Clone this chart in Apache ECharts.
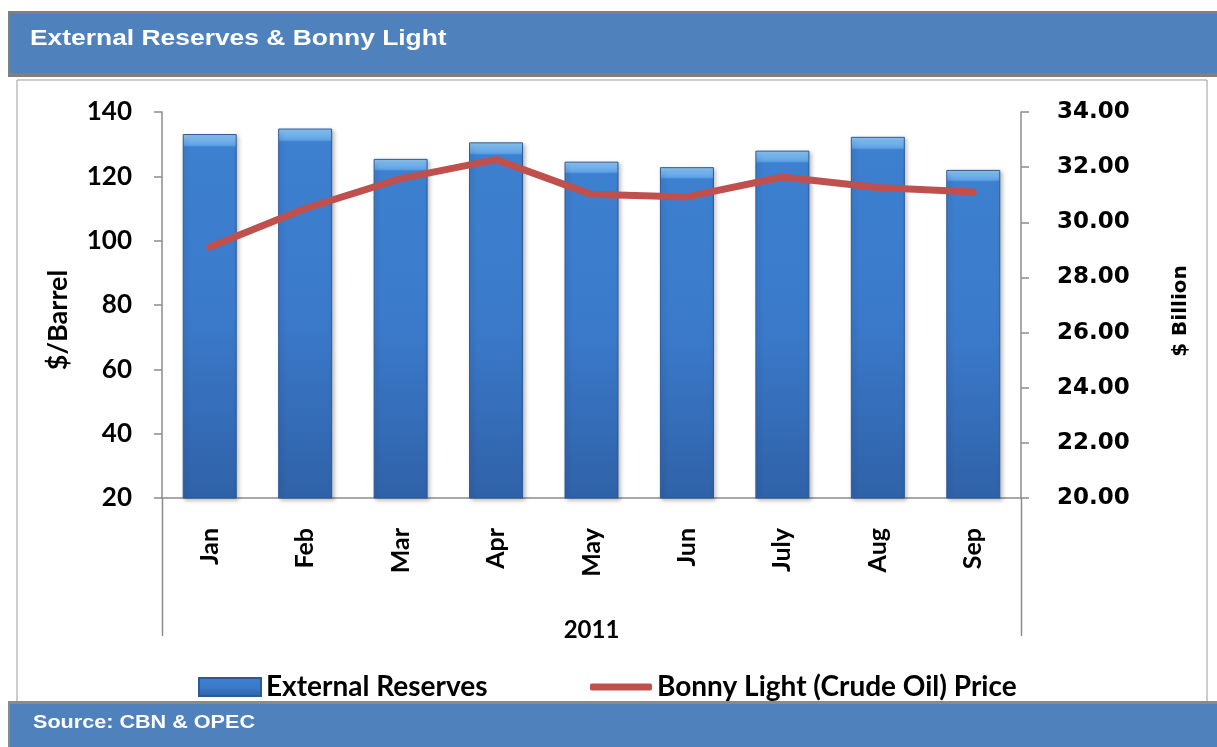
<!DOCTYPE html>
<html>
<head>
<meta charset="utf-8">
<script src="https://cdn.jsdelivr.net/npm/echarts@6/dist/echarts.min.js"></script>
<style>
  html, body { margin: 0; padding: 0; background: #fff; }
  #chart { width: 1217px; height: 747px; }
</style>
</head>
<body>
<div id="chart"></div>
<script>
// data
const months = ['Jan', 'Feb', 'Mar', 'Apr', 'May', 'Jun', 'July', 'Aug', 'Sep']
const reserves = [33.2, 33.4, 32.3, 32.9, 32.2, 32.0, 32.6, 33.1, 31.9]   // $ Billion
const bonnyLight = [98.0, 110.0, 119.3, 125.2, 114.4, 113.6, 119.8, 116.5, 115.1]   // $/Barrel
const leftTicks = { min: 20, max: 140, interval: 20 }
const rightTicks = { min: 20, max: 34, interval: 2 }

const chart = echarts.init(document.getElementById('chart'))
const lato = 'Lato, "Open Sans", sans-serif'
const dejavu = '"DejaVu Sans", Verdana, sans-serif'
const arial = '"Liberation Sans", Arial, sans-serif'

chart.setOption({
  animation: false,
  backgroundColor: '#fff',
  graphic: [
    // title bar
    { type: 'rect', shape: { x: 8, y: 11, width: 1209, height: 66 }, style: { fill: '#7f7f7f' }, z: 0 },
    { type: 'rect', shape: { x: 10, y: 14, width: 1207, height: 59 }, style: { fill: '#4f81bd' }, z: 1 },
    { type: 'text', x: 30, y: 28, scaleX: 1.2, style: { text: 'External Reserves & Bonny Light', fill: '#fff', font: 'bold 22px ' + arial }, z: 2 },
    // chart box
    { type: 'rect', shape: { x: 17, y: 80, width: 1190, height: 624 }, style: { fill: '#fff', stroke: '#9a9a9a', lineWidth: 1 }, z: -1 },
    // plot area side lines running below the axis
    { type: 'line', shape: { x1: 162.5, y1: 498, x2: 162.5, y2: 636 }, style: { stroke: '#8c8c8c', lineWidth: 1.5 }, z: 1 },
    { type: 'line', shape: { x1: 1021.5, y1: 498, x2: 1021.5, y2: 636 }, style: { stroke: '#8c8c8c', lineWidth: 1.5 }, z: 1 },
    // footer
    { type: 'rect', shape: { x: 8, y: 701, width: 1209, height: 46 }, style: { fill: '#8a8a8a' }, z: 0 },
    { type: 'rect', shape: { x: 10, y: 704, width: 1207, height: 43 }, style: { fill: '#4f81bd' }, z: 1 },
    { type: 'text', x: 33, y: 714, scaleX: 1.2, style: { text: 'Source: CBN & OPEC', fill: '#fff', font: 'bold 18px ' + arial }, z: 2 }
  ],
  legend: [
    {
      data: ['External Reserves'],
      left: 193, top: 668,
      itemWidth: 62, itemHeight: 18, itemGap: 8,
      icon: 'rect',
      textStyle: { fontFamily: lato, fontWeight: 'bold', fontSize: 28, color: '#000' }
    },
    {
      data: ['Bonny Light (Crude Oil) Price'],
      left: 585, top: 668,
      itemWidth: 62, itemHeight: 7, itemGap: 8,
      icon: 'roundRect',
      textStyle: { fontFamily: lato, fontWeight: 'bold', fontSize: 28, color: '#000' }
    }
  ],
  grid: { left: 162, right: 196, top: 112, bottom: 249, containLabel: false },
  xAxis: {
    type: 'category',
    data: months,
    name: '2011',
    nameLocation: 'middle',
    nameGap: 120,
    nameTextStyle: { fontFamily: lato, fontWeight: 'bold', fontSize: 24, color: '#000' },
    axisLine: { lineStyle: { color: '#8c8c8c', width: 1.5 } },
    axisTick: { show: false },
    axisLabel: { rotate: 90, margin: 30, fontFamily: lato, fontWeight: 'bold', fontSize: 25, color: '#000' }
  },
  yAxis: [
    {
      type: 'value',
      position: 'left',
      min: leftTicks.min, max: leftTicks.max, interval: leftTicks.interval,
      name: '$/Barrel',
      nameLocation: 'middle',
      nameRotate: 90,
      nameGap: 90,
      nameTextStyle: { fontFamily: lato, fontWeight: 'bold', fontSize: 27, color: '#000', padding: [0, 30, 0, 0] },
      axisLine: { show: true, lineStyle: { color: '#8c8c8c', width: 1.5 } },
      axisTick: { show: true, length: 8, lineStyle: { color: '#8c8c8c', width: 1.5 } },
      axisLabel: { margin: 30, fontFamily: lato, fontWeight: 'bold', fontSize: 26, color: '#000' },
      splitLine: { show: false }
    },
    {
      type: 'value',
      position: 'right',
      min: rightTicks.min, max: rightTicks.max, interval: rightTicks.interval,
      name: '$ Billion',
      nameLocation: 'middle',
      nameRotate: 90,
      nameGap: 150,
      nameTextStyle: { fontFamily: dejavu, fontWeight: 'bold', fontSize: 20, color: '#000', padding: [0, 12, 0, 0] },
      axisLine: { show: true, lineStyle: { color: '#8c8c8c', width: 1.5 } },
      axisTick: { show: true, length: 8, lineStyle: { color: '#8c8c8c', width: 1.5 } },
      axisLabel: {
        margin: 36, fontFamily: dejavu, fontWeight: 'bold', fontSize: 23, color: '#000',
        formatter: v => v.toFixed(2)
      },
      splitLine: { show: false }
    }
  ],
  series: [
    {
      name: 'External Reserves',
      type: 'bar',
      yAxisIndex: 1,
      data: reserves,
      barWidth: 54,
      itemStyle: {
        color: new echarts.graphic.LinearGradient(0, 0, 0, 1, [
          { offset: 0, color: '#8fc8f6' },
          { offset: 0.03, color: '#5fa3e6' },
          { offset: 0.036, color: '#3d80cf' },
          { offset: 0.5, color: '#3b7acb' },
          { offset: 1, color: '#2f62a8' }
        ]),
        borderColor: '#2c5a96',
        borderWidth: 1,
        shadowColor: 'rgba(0,0,0,0.25)',
        shadowBlur: 4,
        shadowOffsetX: 2,
        shadowOffsetY: 2
      },
      z: 2
    },
    {
      name: 'Bonny Light (Crude Oil) Price',
      type: 'line',
      yAxisIndex: 0,
      data: bonnyLight,
      showSymbol: false,
      symbol: 'none',
      itemStyle: { color: '#c0504d' },
      lineStyle: { color: '#c0504d', width: 7, cap: 'round', join: 'round' },
      z: 3
    }
  ]
})
</script>
</body>
</html>
